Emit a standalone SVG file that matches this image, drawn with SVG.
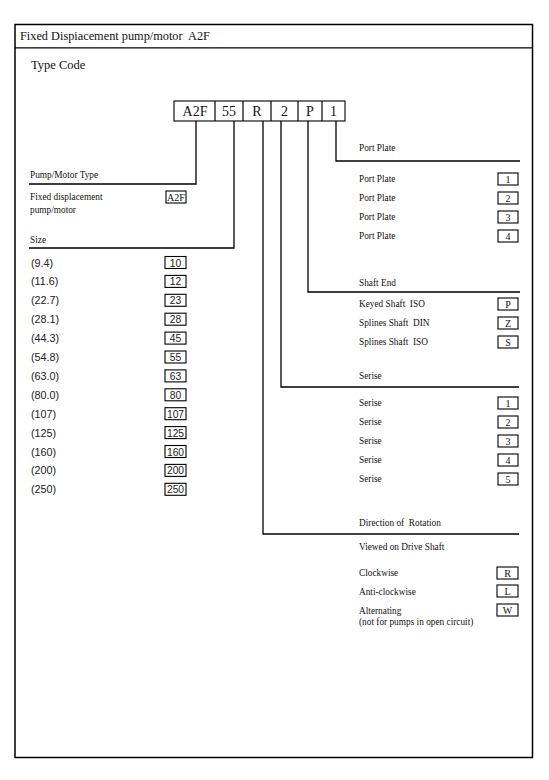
<svg xmlns="http://www.w3.org/2000/svg" width="549" height="780" viewBox="0 0 549 780">
<style>
text{white-space:pre}
.s{font-family:"Liberation Serif","Times New Roman",serif;fill:#111;dominant-baseline:central}
.t{font-size:9.3px}
.n{font-family:"Liberation Sans",Arial,sans-serif;font-size:10.8px;fill:#222;dominant-baseline:central}
.bn{font-family:"Liberation Sans",Arial,sans-serif;font-size:10.3px;fill:#222;dominant-baseline:central;text-anchor:middle}
.bs{font-family:"Liberation Serif","Times New Roman",serif;font-size:10px;fill:#111;dominant-baseline:central;text-anchor:middle}
.box{fill:#fff;stroke:#000;stroke-width:1.1}
.ln{fill:none;stroke:#000;stroke-width:1.3}
</style>
<rect x="0" y="0" width="549" height="780" fill="#fff"/>
<g id="frame">
<rect x="15" y="24.5" width="517.5" height="733" fill="none" stroke="#000" stroke-width="1.5"/>
<line x1="15" y1="47.8" x2="532.5" y2="47.8" stroke="#000" stroke-width="1.3"/>
<text class="s" x="20" y="36" font-size="12.3">Fixed Dispiacement pump/motor  A2F</text>
<text class="s" x="31" y="65" font-size="12.5">Type Code</text>
</g>
<g id="code">
<rect class="box" x="174" y="101" width="171" height="20" stroke-width="1.3"/>
<g stroke="#000" stroke-width="1.2">
<line x1="215" y1="101" x2="215" y2="121"/>
<line x1="243" y1="101" x2="243" y2="121"/>
<line x1="271" y1="101" x2="271" y2="121"/>
<line x1="298" y1="101" x2="298" y2="121"/>
<line x1="322" y1="101" x2="322" y2="121"/>
</g>
<g class="s" font-size="14" text-anchor="middle">
<text x="195" y="111.5">A2F</text>
<text x="229" y="111">55</text>
<text x="257" y="111.5">R</text>
<text x="284.5" y="111.5">2</text>
<text x="310" y="111">P</text>
<text x="333.5" y="111.5">1</text>
</g>
</g>
<g id="connectors" class="ln">
<polyline points="196,121 196,184 29,184"/>
<polyline points="234,121 234,248 29,248"/>
<polyline points="263,121 263,534 519,534"/>
<polyline points="281,121 281,387 519,387"/>
<polyline points="308,121 308,292 520,292"/>
<polyline points="336,121 336,161 520,161"/>
</g>
<g id="type">
<text class="s t" x="30" y="174.5">Pump/Motor Type</text>
<text class="s t" x="30" y="197">Fixed displacement</text>
<text class="s t" x="30" y="210">pump/motor</text>
<rect class="box" x="166" y="191" width="20" height="12"/>
<text class="bs" x="176" y="197" font-size="9.5">A2F</text>
</g>
<g id="size">
<text class="s t" x="30" y="240">Size</text>
<g class="n">
<text x="31" y="262.5">(9.4)</text>
<text x="31" y="281.4">(11.6)</text>
<text x="31" y="300.3">(22.7)</text>
<text x="31" y="319.2">(28.1)</text>
<text x="31" y="338.1">(44.3)</text>
<text x="31" y="357">(54.8)</text>
<text x="31" y="375.9">(63.0)</text>
<text x="31" y="394.8">(80.0)</text>
<text x="31" y="413.7">(107)</text>
<text x="31" y="432.6">(125)</text>
<text x="31" y="451.5">(160)</text>
<text x="31" y="470.4">(200)</text>
<text x="31" y="489.3">(250)</text>
</g>
<g>
<rect class="box" x="165" y="256.5" width="21" height="12"/>
<rect class="box" x="165" y="275.4" width="21" height="12"/>
<rect class="box" x="165" y="294.3" width="21" height="12"/>
<rect class="box" x="165" y="313.2" width="21" height="12"/>
<rect class="box" x="165" y="332.1" width="21" height="12"/>
<rect class="box" x="165" y="351" width="21" height="12"/>
<rect class="box" x="165" y="369.9" width="21" height="12"/>
<rect class="box" x="165" y="388.8" width="21" height="12"/>
<rect class="box" x="165" y="407.7" width="21" height="12"/>
<rect class="box" x="165" y="426.6" width="21" height="12"/>
<rect class="box" x="165" y="445.5" width="21" height="12"/>
<rect class="box" x="165" y="464.4" width="21" height="12" stroke-width="1.5"/>
<rect class="box" x="165" y="483.3" width="21" height="12" stroke-width="1.8"/>
</g>
<g>
<text class="bn" x="175.5" y="263">10</text>
<text class="bn" x="175.5" y="281.9">12</text>
<text class="bn" x="175.5" y="300.8">23</text>
<text class="bn" x="175.5" y="319.7">28</text>
<text class="bn" x="175.5" y="338.6">45</text>
<text class="bn" x="175.5" y="357.5">55</text>
<text class="bn" x="175.5" y="376.4">63</text>
<text class="bn" x="175.5" y="395.3">80</text>
<text class="bn" x="175.5" y="414.2">107</text>
<text class="bn" x="175.5" y="433.1">125</text>
<text class="bn" x="175.5" y="452">160</text>
<text class="bn" x="175.5" y="470.9">200</text>
<text class="bn" x="175.5" y="489.8">250</text>
</g>
</g>
<g id="port-plate">
<text class="s t" x="359" y="148">Port Plate</text>
<text class="s t" x="359" y="179">Port Plate</text>
<text class="s t" x="359" y="198">Port Plate</text>
<text class="s t" x="359" y="217">Port Plate</text>
<text class="s t" x="359" y="236">Port Plate</text>
<rect class="box" x="498" y="173" width="20" height="12"/>
<rect class="box" x="498" y="192" width="20" height="12"/>
<rect class="box" x="498" y="211" width="20" height="12"/>
<rect class="box" x="498" y="230" width="20" height="12"/>
<text class="bs" x="508" y="179">1</text>
<text class="bs" x="508" y="198">2</text>
<text class="bs" x="508" y="217">3</text>
<text class="bs" x="508" y="236">4</text>
</g>
<g id="shaft-end">
<text class="s t" x="359" y="283">Shaft End</text>
<text class="s t" x="359" y="304">Keyed Shaft  ISO</text>
<text class="s t" x="359" y="323">Splines Shaft  DIN</text>
<text class="s t" x="359" y="342">Splines Shaft  ISO</text>
<rect class="box" x="498" y="298" width="20" height="12"/>
<rect class="box" x="498" y="317" width="20" height="12"/>
<rect class="box" x="498" y="336" width="20" height="12"/>
<text class="bs" x="508" y="304">P</text>
<text class="bs" x="508" y="323">Z</text>
<text class="bs" x="508" y="342">S</text>
</g>
<g id="serise">
<text class="s t" x="359" y="376">Serise</text>
<text class="s t" x="359" y="403">Serise</text>
<text class="s t" x="359" y="422">Serise</text>
<text class="s t" x="359" y="441">Serise</text>
<text class="s t" x="359" y="460">Serise</text>
<text class="s t" x="359" y="479">Serise</text>
<rect class="box" x="498" y="397" width="20" height="12"/>
<rect class="box" x="498" y="416" width="20" height="12"/>
<rect class="box" x="498" y="435" width="20" height="12"/>
<rect class="box" x="498" y="454" width="20" height="12"/>
<rect class="box" x="498" y="473" width="20" height="12"/>
<text class="bs" x="508" y="403">1</text>
<text class="bs" x="508" y="422">2</text>
<text class="bs" x="508" y="441">3</text>
<text class="bs" x="508" y="460">4</text>
<text class="bs" x="508" y="479">5</text>
</g>
<g id="direction">
<text class="s t" x="359" y="523">Direction of  Rotation</text>
<text class="s t" x="359" y="547">Viewed on Drive Shaft</text>
<text class="s t" x="359" y="573">Clockwise</text>
<text class="s t" x="359" y="592">Anti-clockwise</text>
<text class="s t" x="359" y="611">Alternating</text>
<text class="s t" x="359" y="622">(not for pumps in open circuit)</text>
<rect class="box" x="497" y="567" width="21" height="12"/>
<rect class="box" x="497" y="585" width="21" height="12"/>
<rect class="box" x="497" y="604" width="21" height="12"/>
<text class="bs" x="507.5" y="573">R</text>
<text class="bs" x="507.5" y="591">L</text>
<text class="bs" x="507.5" y="610">W</text>
</g>
</svg>
